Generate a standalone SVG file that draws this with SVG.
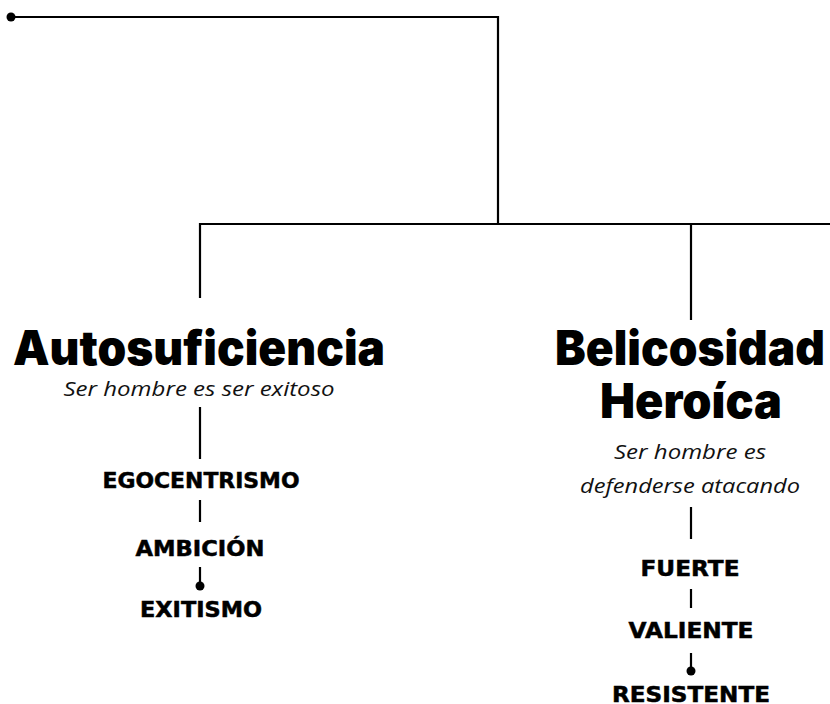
<svg xmlns="http://www.w3.org/2000/svg" width="830" height="704" viewBox="0 0 830 704">
<style>
.ln{stroke:#000;stroke-width:2.2;fill:none}
.dot{fill:#000}
.h{font-family:Inter,Lato,"Noto Sans",sans-serif;font-weight:900;font-size:48px;text-anchor:middle;fill:#000}
.s{font-family:"Open Sans","Noto Sans",sans-serif;font-style:italic;font-size:20px;text-anchor:middle;fill:#111}
.t{font-family:"DejaVu Sans","Noto Sans",sans-serif;font-weight:bold;font-size:21px;text-anchor:middle;fill:#000;stroke:#000;stroke-width:0.5}
</style>
<rect width="830" height="704" fill="#fff"/>
<g id="connectors">
<circle class="dot" cx="11" cy="17" r="4.5"/>
<path class="ln" d="M11 17H498V224"/>
<path class="ln" d="M200 298V224H830"/>
<path class="ln" d="M691 224V320"/>
<path class="ln" d="M200 407V459"/>
<path class="ln" d="M200 500V522"/>
<path class="ln" d="M200 567V584"/>
<circle class="dot" cx="200" cy="586" r="4.5"/>
<path class="ln" d="M691 507V539"/>
<path class="ln" d="M691 589V608"/>
<path class="ln" d="M691 653V669"/>
<circle class="dot" cx="691" cy="671" r="4.5"/>
</g>
<g id="autosuficiencia">
<text class="h" x="199" y="365" textLength="372" lengthAdjust="spacingAndGlyphs">Autosuficiencia</text>
<text class="s" x="199" y="396" textLength="271" lengthAdjust="spacingAndGlyphs">Ser hombre es ser exitoso</text>
</g>
<g id="egocentrismo"><text class="t" x="201" y="488" textLength="197" lengthAdjust="spacingAndGlyphs">EGOCENTRISMO</text></g>
<g id="ambicion"><text class="t" x="200" y="556" textLength="129" lengthAdjust="spacingAndGlyphs">AMBICIÓN</text></g>
<g id="exitismo"><text class="t" x="201" y="617" textLength="122" lengthAdjust="spacingAndGlyphs">EXITISMO</text></g>
<g id="belicosidad">
<text class="h" x="690" y="365" textLength="270" lengthAdjust="spacingAndGlyphs">Belicosidad</text>
<text class="h" x="691" y="418" textLength="182" lengthAdjust="spacingAndGlyphs">Heroíca</text>
<text class="s" x="690" y="459" textLength="152" lengthAdjust="spacingAndGlyphs">Ser hombre es</text>
<text class="s" x="690" y="493" textLength="220" lengthAdjust="spacingAndGlyphs">defenderse atacando</text>
</g>
<g id="fuerte"><text class="t" x="690" y="576" textLength="99" lengthAdjust="spacingAndGlyphs">FUERTE</text></g>
<g id="valiente"><text class="t" x="691" y="638" textLength="125" lengthAdjust="spacingAndGlyphs">VALIENTE</text></g>
<g id="resistente"><text class="t" x="691" y="702" textLength="158" lengthAdjust="spacingAndGlyphs">RESISTENTE</text></g>
</svg>
